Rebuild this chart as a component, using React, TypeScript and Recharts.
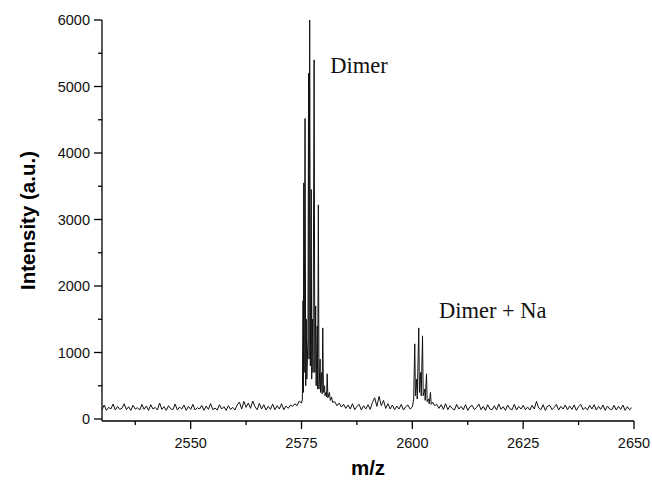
import React from "react";
import { LineChart, Line, XAxis, YAxis, ReferenceDot, Label } from "recharts";

// Baseline segments sampled every 0.5 m/z
const BASE_STEP = 0.5;
const BASE_A_START = 2530;
const BASE_A = [
  140, 210, 130, 175, 150, 225, 135, 190, 145, 160, 230, 140, 185, 130, 205, 150, 170, 135, 220, 145,
  195, 130, 215, 150, 175, 135, 240, 145, 185, 130, 200, 155, 140, 225, 135, 180, 150, 210, 130, 190,
  145, 220, 135, 170, 150, 205, 130, 195, 145, 230, 140, 165, 135, 215, 150, 185, 130, 200, 145, 175,
  135, 210, 255, 150, 265, 175, 240, 160, 270, 185, 140, 235, 150, 215, 135, 190, 145, 225, 140, 200,
  150, 230, 140, 195, 160, 210,
];
const BASE_B_START = 2585.5;
const BASE_B = [
  210, 150, 230, 140, 190, 220, 135, 200, 150, 215, 145,
  250, 320, 190, 340, 200, 280, 160, 230, 150, 210, 140, 195, 150, 220, 135, 185, 210, 150,
];
const BASE_C_START = 2606.5;
const BASE_C = [
  215, 145, 230, 140, 200, 160, 135, 220, 150, 190, 140, 215, 130, 185, 205, 140, 175, 225, 140,
  190, 130, 215, 150, 140, 200, 135, 225, 145, 185, 130, 210, 155, 140, 220, 135, 190, 150, 205, 140,
  180, 135, 205, 150, 265, 165, 140, 215, 130, 195, 205, 140, 175, 220, 135, 190, 150, 210, 140, 195,
  145, 210, 130, 185, 220, 140, 175, 135, 205, 150, 215, 135, 190, 145, 210, 130, 195, 150, 140, 205,
  135, 190, 145, 210, 130, 185, 140, 170,
];

// Dimer isotope cluster
const DIMER_MZ = [
  2573.0, 2573.5, 2574.0, 2574.5, 2575.0, 2575.2, 2575.35, 2575.42, 2575.52, 2575.6, 2575.8, 2575.95,
  2576.1, 2576.2, 2576.45, 2576.6, 2576.7, 2576.85, 2577.0, 2577.2, 2577.3, 2577.5, 2577.6, 2577.85,
  2578.0, 2578.2, 2578.3, 2578.55, 2578.65, 2578.8, 2578.95, 2579.2, 2579.3, 2579.55, 2579.65, 2579.8,
  2579.95, 2580.2, 2580.3, 2580.55, 2580.65, 2580.8, 2580.95, 2581.3, 2581.5, 2581.8, 2582.0, 2582.5,
  2583.0, 2583.5, 2584.0, 2584.5, 2585.0,
];
const DIMER_I = [
  190, 230, 200, 270, 240, 300, 1780, 400, 3550, 700, 4520, 500,
  1500, 600, 1200, 5200, 900, 6000, 800, 3450, 600, 1500, 700, 5400,
  700, 1700, 500, 1400, 450, 3220, 450, 900, 400, 700, 380, 1370,
  400, 500, 350, 400, 330, 680, 320, 400, 280, 330, 250, 260,
  200, 240, 180, 220, 160,
];

// Dimer + Na isotope cluster
const SODIUM_MZ = [
  2600.0, 2600.3, 2600.55, 2600.7, 2601.0, 2601.1, 2601.45, 2601.6, 2601.9, 2602.0, 2602.3, 2602.45,
  2602.8, 2602.9, 2603.2, 2603.35, 2603.7, 2603.8, 2604.1, 2604.25, 2604.6, 2605.0, 2605.5, 2606.0,
];
const SODIUM_I = [
  180, 300, 1130, 350, 600, 300, 1370, 400, 700, 350, 1250, 350,
  450, 280, 680, 260, 300, 230, 400, 220, 250, 200, 220, 160,
];

const MAJOR_X_TICKS = [2550, 2575, 2600, 2625, 2650];
const MINOR_X_TICKS = [2537.5, 2562.5, 2587.5, 2612.5, 2637.5];
const MAJOR_Y_TICKS = [0, 1000, 2000, 3000, 4000, 5000, 6000];
const MINOR_Y_TICKS = [500, 1500, 2500, 3500, 4500, 5500];

const ANNOTATIONS = [
  { label: "Dimer", mz: 2581.5, intensity: 5200 },
  { label: "Dimer + Na", mz: 2606, intensity: 1520 },
];

type Pt = { mz: number; intensity: number };

const spectrum: Pt[] = [];
BASE_A.forEach((v, i) => spectrum.push({ mz: BASE_A_START + i * BASE_STEP, intensity: v }));
BASE_B.forEach((v, i) => spectrum.push({ mz: BASE_B_START + i * BASE_STEP, intensity: v }));
BASE_C.forEach((v, i) => spectrum.push({ mz: BASE_C_START + i * BASE_STEP, intensity: v }));
DIMER_MZ.forEach((m, i) => spectrum.push({ mz: m, intensity: DIMER_I[i] }));
SODIUM_MZ.forEach((m, i) => spectrum.push({ mz: m, intensity: SODIUM_I[i] }));
spectrum.sort((a, b) => a.mz - b.mz);

const SANS = "'Liberation Sans', Arial, sans-serif";
const SERIF = "'Liberation Serif', 'Times New Roman', serif";

const XTick = (props: any) => {
  const { x, y, payload } = props;
  const major = MAJOR_X_TICKS.includes(payload.value);
  return (
    <g>
      <line x1={x} x2={x} y1={y} y2={y + (major ? 8 : 4)} stroke="#000" strokeWidth={1.3} />
      {major && (
        <text x={x} y={y + 27} textAnchor="middle" fontFamily={SANS} fontSize={14.5} fill="#111">
          {payload.value}
        </text>
      )}
    </g>
  );
};

const YTick = (props: any) => {
  const { x, y, payload } = props;
  const major = MAJOR_Y_TICKS.includes(payload.value);
  return (
    <g>
      <line x1={x - (major ? 8 : 4)} x2={x} y1={y} y2={y} stroke="#000" strokeWidth={1.3} />
      {major && (
        <text x={x - 12} y={y + 5} textAnchor="end" fontFamily={SANS} fontSize={14.5} fill="#111">
          {payload.value}
        </text>
      )}
    </g>
  );
};

const YTitle = (props: any) => {
  const vb = props.viewBox;
  const cx = vb.x + 27;
  const cy = vb.y + vb.height / 2;
  return (
    <text
      x={cx}
      y={cy}
      transform={`rotate(-90 ${cx} ${cy})`}
      textAnchor="middle"
      dominantBaseline="central"
      fontFamily={SANS}
      fontWeight="bold"
      fontSize={20.5}
      fill="#000"
    >
      Intensity (a.u.)
    </text>
  );
};

const XTitle = (props: any) => {
  const vb = props.viewBox;
  return (
    <text
      x={vb.x + vb.width / 2}
      y={vb.y + 54}
      textAnchor="middle"
      fontFamily={SANS}
      fontWeight="bold"
      fontSize={20.5}
      fill="#000"
    >
      m/z
    </text>
  );
};

const makeNote = (text: string) => (props: any) => {
  const vb = props.viewBox;
  return (
    <text x={vb.x} y={vb.y} textAnchor="start" fontFamily={SERIF} fontSize={22.5} fill="#111">
      {text}
    </text>
  );
};

export default function App() {
  return (
    <div style={{ position: "absolute", left: 0, top: 0, background: "#fff" }}>
      <LineChart
        width={652}
        height={480}
        data={spectrum}
        margin={{ top: 20, right: 18, bottom: 0, left: 0 }}
      >
        <XAxis
          dataKey="mz"
          type="number"
          domain={[2530, 2650]}
          allowDataOverflow
          ticks={[...MINOR_X_TICKS, ...MAJOR_X_TICKS].sort((a, b) => a - b)}
          interval={0}
          tickSize={0}
          tickMargin={0}
          tickLine={false}
          tick={<XTick />}
          height={59}
          axisLine={{ stroke: "#000", strokeWidth: 1.3 }}
          label={<Label content={<XTitle />} />}
        />
        <YAxis
          type="number"
          domain={[-30, 6000]}
          allowDataOverflow
          ticks={[...MINOR_Y_TICKS, ...MAJOR_Y_TICKS].sort((a, b) => a - b)}
          interval={0}
          tickSize={0}
          tickMargin={0}
          tickLine={false}
          tick={<YTick />}
          width={102}
          axisLine={{ stroke: "#000", strokeWidth: 1.3 }}
          label={<Label content={<YTitle />} />}
        />
        <Line
          type="linear"
          dataKey="intensity"
          stroke="#111"
          strokeWidth={1}
          dot={false}
          isAnimationActive={false}
        />
        {ANNOTATIONS.map((a) => (
          <ReferenceDot
            key={a.label}
            x={a.mz}
            y={a.intensity}
            r={0}
            fill="none"
            stroke="none"
            label={<Label content={makeNote(a.label)} />}
          />
        ))}
      </LineChart>
    </div>
  );
}
